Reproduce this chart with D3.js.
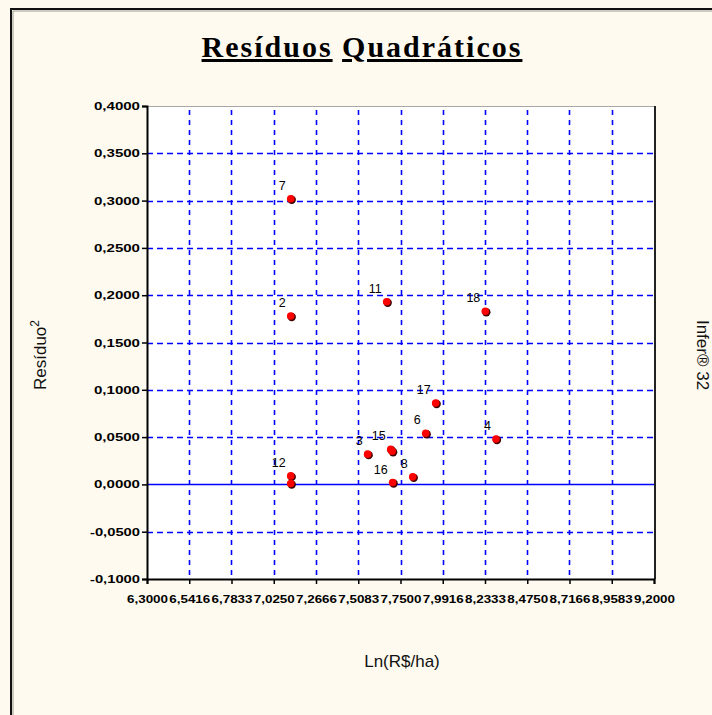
<!DOCTYPE html>
<html>
<head>
<meta charset="utf-8">
<title>Residuos</title>
<style>
  body { margin: 0; background: #fffaef; }
  svg { display: block; }
  .tick-lbl { font-family: "Liberation Sans", Arial, sans-serif; font-size: 11px; font-weight: bold; fill: #000; }
  .pt-lbl { font-family: "Liberation Sans", Arial, sans-serif; font-size: 12.5px; fill: #000; }
  .title { font-family: "Liberation Serif", "Times New Roman", serif; font-size: 30px; font-weight: bold; letter-spacing: 2px; }
  .axis-title { font-family: "Liberation Sans", Arial, sans-serif; font-size: 17px; fill: #111; }
</style>
</head>
<body>
<script src="https://d3js.org/d3.v7.min.js"></script>
<script>
// point labels and values
var pointLabels = ["7", "2", "11", "18", "17", "6", "4", "3", "15", "16", "8", "12", "", ""];
var lnValues    = [7.122, 7.122, 7.671, 8.235, 7.951, 7.894, 8.296, 7.562, 7.694, 7.705, 7.820, 7.122, 7.122, 7.702];
var residuo2    = [0.302, 0.178, 0.193, 0.183, 0.086, 0.054, 0.048, 0.032, 0.037, 0.002, 0.008, 0.009, 0.001, 0.035];

var xTicks = [6.3, 6.541666, 6.783333, 7.025, 7.266666, 7.508333, 7.75, 7.991666, 8.233333, 8.475, 8.716666, 8.958333, 9.2];
var xTickLabels = ["6,3000", "6,5416", "6,7833", "7,0250", "7,2666", "7,5083", "7,7500",
                   "7,9916", "8,2333", "8,4750", "8,7166", "8,9583", "9,2000"];
var yTicks = [-0.1, -0.05, 0, 0.05, 0.1, 0.15, 0.2, 0.25, 0.3, 0.35, 0.4];
var yTickLabels = ["-0,1000", "-0,0500", "0,0000", "0,0500", "0,1000", "0,1500",
                   "0,2000", "0,2500", "0,3000", "0,3500", "0,4000"];

var W = 712, H = 715;
var plot = { left: 147, right: 654, top: 106, bottom: 579 };

var x = d3.scaleLinear().domain([6.3, 9.2]).range([plot.left, plot.right]);
var y = d3.scaleLinear().domain([-0.1, 0.4]).range([plot.bottom, plot.top]);

var svg = d3.select("body").append("svg")
    .attr("width", W)
    .attr("height", H);

// outer frame (left + top only visible)
svg.append("path")
    .attr("d", "M11," + H + "V9H" + W)
    .attr("fill", "none")
    .attr("stroke", "#111")
    .attr("stroke-width", 2);
svg.append("path")
    .attr("d", "M13," + H + "V11H" + W)
    .attr("fill", "none")
    .attr("stroke", "#9a9a90")
    .attr("stroke-width", 1);

// title
var title = svg.append("text")
    .attr("class", "title")
    .attr("x", 362)
    .attr("y", 57)
    .attr("text-anchor", "middle");
title.append("tspan").style("text-decoration", "underline").text("Resíduos");
title.append("tspan").text(" ");
title.append("tspan").style("text-decoration", "underline").text("Quadráticos");

// plot background
svg.append("rect")
    .attr("x", plot.left)
    .attr("y", plot.top)
    .attr("width", plot.right - plot.left)
    .attr("height", plot.bottom - plot.top)
    .attr("fill", "#fff");

// grid
svg.append("g").selectAll("line")
    .data(xTicks.slice(1, -1))
    .enter().append("line")
    .attr("x1", function (d) { return Math.round(x(d)) + 0.5; })
    .attr("x2", function (d) { return Math.round(x(d)) + 0.5; })
    .attr("y1", plot.top + 4)
    .attr("y2", plot.bottom)
    .attr("stroke", "#0000ff")
    .attr("stroke-width", 1.6)
    .attr("stroke-dasharray", "5,5");

svg.append("g").selectAll("line")
    .data(yTicks.slice(1, -1))
    .enter().append("line")
    .attr("x1", plot.left)
    .attr("x2", plot.right)
    .attr("y1", function (d) { return Math.round(y(d)) + 0.5; })
    .attr("y2", function (d) { return Math.round(y(d)) + 0.5; })
    .attr("stroke", "#0000ff")
    .attr("stroke-width", function (d) { return d === 0 ? 1.4 : 1.6; })
    .attr("stroke-dasharray", function (d) { return d === 0 ? null : "6,4"; });

// plot frame: light top, dark right
svg.append("line")
    .attr("x1", plot.left).attr("x2", plot.right)
    .attr("y1", plot.top + 0.5).attr("y2", plot.top + 0.5)
    .attr("stroke", "#a8a8a8");
svg.append("line")
    .attr("x1", plot.right + 1).attr("x2", plot.right + 1)
    .attr("y1", plot.top).attr("y2", plot.bottom)
    .attr("stroke", "#222")
    .attr("stroke-width", 2);

// axes
var xAxis = svg.append("g")
    .attr("transform", "translate(0," + plot.bottom + ")")
    .call(d3.axisBottom(x).tickValues(xTicks).tickSize(5)
        .tickFormat(function (d, i) { return xTickLabels[i]; }));
var yAxis = svg.append("g")
    .attr("transform", "translate(" + plot.left + ",0)")
    .call(d3.axisLeft(y).tickValues(yTicks).tickSize(5)
        .tickFormat(function (d, i) { return yTickLabels[i]; }));

[xAxis, yAxis].forEach(function (ax) {
    ax.select(".domain").attr("stroke", "#000").attr("stroke-width", 2);
    ax.selectAll(".tick line").attr("stroke", "#000").attr("stroke-width", 1.5);
    ax.selectAll(".tick text")
        .attr("class", "tick-lbl")
        .attr("fill", "#000")
        .attr("font-family", null)
        .attr("font-size", null);
});
xAxis.selectAll(".tick text")
    .attr("y", 16)
    .attr("textLength", 41)
    .attr("lengthAdjust", "spacingAndGlyphs");
yAxis.selectAll(".tick text")
    .attr("x", -7)
    .attr("textLength", function (d) { return d < 0 ? 50 : 46; })
    .attr("lengthAdjust", "spacingAndGlyphs");

// points
var pts = pointLabels.map(function (l, i) {
    return { label: l, x: lnValues[i], y: residuo2[i] };
});

var g = svg.append("g");
g.selectAll("circle.shadow")
    .data(pts)
    .enter().append("circle")
    .attr("class", "shadow")
    .attr("cx", function (d) { return x(d.x) + 1; })
    .attr("cy", function (d) { return y(d.y) + 1; })
    .attr("r", 4.2)
    .attr("fill", "#400000");
g.selectAll("circle.dot")
    .data(pts)
    .enter().append("circle")
    .attr("class", "dot")
    .attr("cx", function (d) { return x(d.x); })
    .attr("cy", function (d) { return y(d.y); })
    .attr("r", 3.8)
    .attr("fill", "#ff0000");

g.selectAll("text")
    .data(pts.filter(function (d) { return d.label !== ""; }))
    .enter().append("text")
    .attr("class", "pt-lbl")
    .attr("x", function (d) { return x(d.x) - 5; })
    .attr("y", function (d) { return y(d.y) - 9; })
    .attr("text-anchor", "end")
    .text(function (d) { return d.label; });

// axis titles
var yt = svg.append("text")
    .attr("class", "axis-title")
    .attr("transform", "translate(46,355) rotate(-90)")
    .attr("text-anchor", "middle");
yt.append("tspan").text("Resíduo");
yt.append("tspan").attr("dy", -7).attr("font-size", "12px").text("2");

svg.append("text")
    .attr("class", "axis-title")
    .attr("x", 402)
    .attr("y", 667)
    .attr("text-anchor", "middle")
    .text("Ln(R$/ha)");

svg.append("text")
    .attr("class", "axis-title")
    .attr("transform", "translate(697,355) rotate(90)")
    .attr("text-anchor", "middle")
    .text("Infer® 32");
</script>
</body>
</html>
